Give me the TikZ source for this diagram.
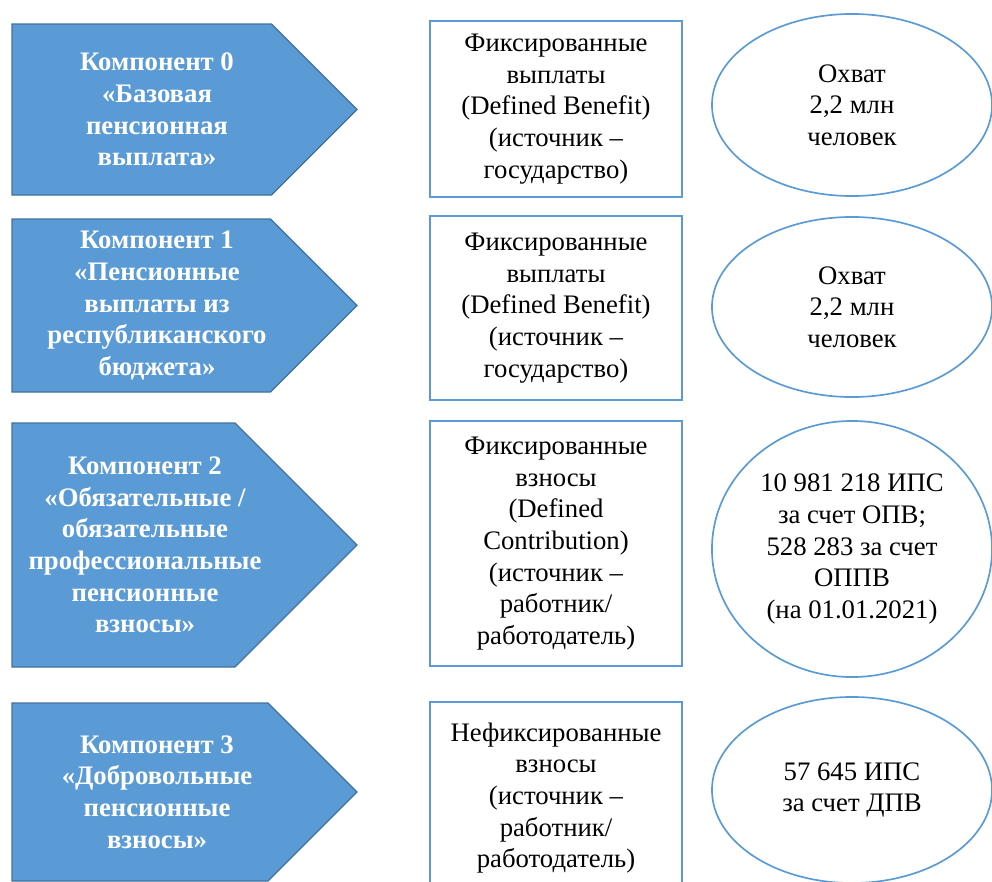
\documentclass[tikz,border=0pt]{standalone}
\usepackage{fontspec}
\setmainfont{Liberation Serif}
\usepackage{tikz}
\usetikzlibrary{shapes.geometric}
\definecolor{compblue}{HTML}{5B9BD5}
\definecolor{compedge}{HTML}{41719C}
\def\txtsize{\fontsize{19}{22.5}\selectfont}
% [#1 text x], #2 name, #3 top, #4 bottom, #5 text
\newcommand{\component}[5][157]{%
  \draw[comp] (12,#3) -- ({357-(#4-#3)/2},#3) -- (357,{(#3+#4)/2})
    -- ({357-(#4-#3)/2},#4) -- (12,#4) -- cycle;
  \node[comptext] (#2) at (#1,{(#3+#4)/2}) {#5};}

\begin{document}
\begin{tikzpicture}[x=0.025cm,y=-0.025cm,
    comp/.style={fill=compblue, draw=compedge, line width=0.9pt, line join=miter},
    comptext/.style={text=white, align=center, font=\txtsize\bfseries},
    typebox/.style={draw=compblue, line width=1.3pt, rectangle, align=center,
      minimum width=6.3cm, font=\txtsize},
    cover/.style={draw=compblue, line width=1.2pt, ellipse, inner sep=0pt, align=center,
      minimum width=7cm, font=\txtsize}]
		%%%%% START %%%%%
		\useasboundingbox (0,0) rectangle (992,881);
		
		% components
		\component{comp0}{24}{195}{Компонент 0\\«Базовая\\пенсионная\\выплата»}
		\component{comp1}{219}{392}{Компонент 1\\«Пенсионные\\выплаты из\\республиканского\\бюджета»}
		\component[145]{comp2}{423}{667}{Компонент 2\\«Обязательные /\\обязательные\\профессиональные\\пенсионные\\взносы»}
		\component{comp3}{703}{881}{Компонент 3\\«Добровольные\\пенсионные\\взносы»}
		
		% payment types
		\node[typebox, minimum height=4.4cm] (type0) at (556,109) {Фиксированные\\выплаты\\(Defined Benefit)\\(источник –\\государство)};
		\node[typebox, minimum height=4.6cm] (type1) at (556,308) {Фиксированные\\выплаты\\(Defined Benefit)\\(источник –\\государство)};
		\node[typebox, minimum height=6.125cm] (type2) at (556,543.5) {Фиксированные\\взносы\\(Defined\\Contribution)\\(источник –\\работник/\\работодатель)};
		\node[typebox, minimum height=4.8cm] (type3) at (556,798) {Нефиксированные\\взносы\\(источник –\\работник/\\работодатель)};
		
		% coverage
		\node[cover, minimum height=4.55cm] (cov0) at (852,105) {Охват\\2,2 млн\\человек};
		\node[cover, minimum height=4.5cm] (cov1) at (852,307) {Охват\\2,2 млн\\человек};
		\node[cover, minimum height=6.4cm] (cov2) at (852,549) {10 981 218 ИПС\\за счет ОПВ;\\528 283 за счет\\ОППВ\\(на 01.01.2021)};
		\node[cover, minimum height=4.65cm] (cov3) at (852,790) {57 645 ИПС\\за счет ДПВ};
		
		%%%%% END %%%%%
\end{tikzpicture}
\end{document}
